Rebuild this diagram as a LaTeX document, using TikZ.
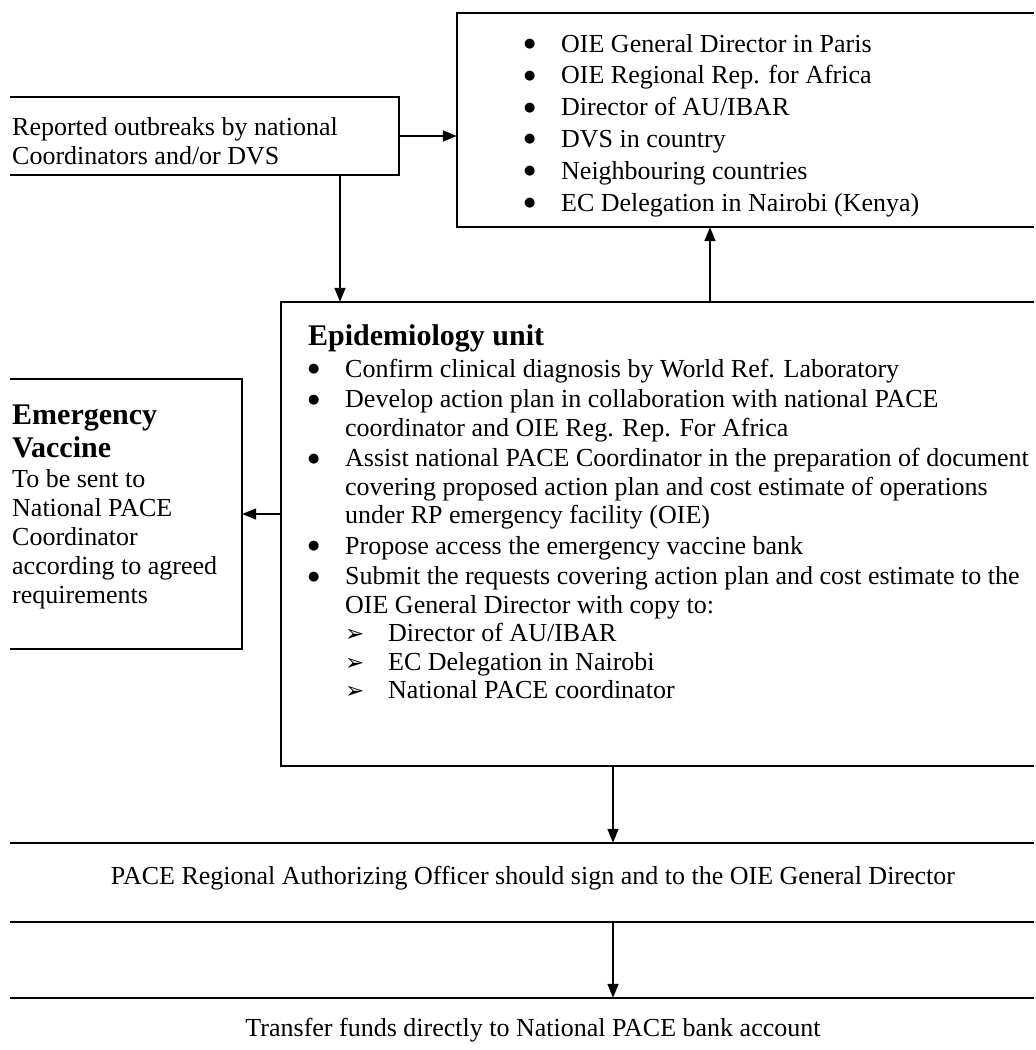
\documentclass[tikz,border=0pt]{standalone}
\usepackage{fontspec}
\setmainfont{Liberation Serif}
\newfontfamily\dingfont{DejaVu Sans}
\usepackage{tikz}
\usetikzlibrary{arrows.meta,positioning,calc}
\newcommand{\blt}{\makebox[37pt][l]{\raisebox{4.5pt}{\dingfont\fontsize{13}{13}\selectfont ●}}}
\newcommand{\hang}{\hspace*{37pt}}
\newcommand{\pointer}{\makebox[43pt][l]{\dingfont\fontsize{23}{23}\selectfont ➢}}
\tikzset{frame/.style={rectangle,inner sep=0pt,draw=none}}

\begin{document}
\begin{tikzpicture}[x=1pt,y=-1pt,
txt/.style={anchor=base west,inner sep=0pt,font=\fontsize{26}{29}\selectfont},
rule/.style={line width=1.6pt},
flow/.style={line width=1.6pt,-{Triangle[length=14pt,width=11pt]}}]
\useasboundingbox (0,0) rectangle (1036,1050);
\node (report) at (204.5,136)[frame,minimum width=389pt,minimum height=78pt] {};
\node (notify) at (745.5,120)[frame,minimum width=577pt,minimum height=214pt] {};
\node (epi) at (657.5,534)[frame,minimum width=753pt,minimum height=464pt] {};
\node (vaccine) at (126,514)[frame,minimum width=232pt,minimum height=270pt] {};
\node (sign) at (522,882.5)[frame,minimum width=1024pt,minimum height=79pt] {};
\node (funds) at (522,1034)[frame,minimum width=1024pt,minimum height=72pt] {};
\draw[rule] (report.north west) -- (report.north east) -- (report.south east) -- (report.south west);
\draw[rule] (notify.north east) -- (notify.north west) -- (notify.south west) -- (notify.south east);
\draw[rule] (epi.north east) -- (epi.north west) -- (epi.south west) -- (epi.south east);
\draw[rule] (vaccine.north west) -- (vaccine.north east) -- (vaccine.south east) -- (vaccine.south west);
\draw[rule] (sign.north west) -- (sign.north east) (sign.south west) -- (sign.south east);
\draw[rule] (funds.north west) -- (funds.north east);
\node (reporttxt) at (12,135)[txt] {\begin{tabular}[t]{@{}l@{}}
Reported outbreaks by national\\
Coordinators and/or DVS
\end{tabular}};
\node (notifytxt) at (524,52)[txt,font=\fontsize{26}{31.8}\selectfont] {\begin{tabular}[t]{@{}l@{}}
\blt OIE General Director in Paris\\
\blt OIE Regional Rep. for Africa\\
\blt Director of AU/IBAR\\
\blt DVS in country\\
\blt Neighbouring countries\\
\blt EC Delegation in Nairobi (Kenya)
\end{tabular}};
\node (epitxt) at (308,345)[txt,font=\fontsize{26}{28.5}\selectfont] {\begin{tabular}[t]{@{}l@{}}
{\fontsize{30}{33}\selectfont\bfseries Epidemiology unit}\\[3.5pt]
\blt Confirm clinical diagnosis by World Ref. Laboratory\\[2pt]
\blt Develop action plan in collaboration with national PACE\\
\hang coordinator and OIE Reg. Rep. For Africa\\[2pt]
\blt Assist national PACE Coordinator in the preparation of document\\
\hang covering proposed action plan and cost estimate of operations\\
\hang under RP emergency facility (OIE)\\[2pt]
\blt Propose access the emergency vaccine bank\\[2pt]
\blt Submit the requests covering action plan and cost estimate to the\\
\hang OIE General Director with copy to:\\
\hang\pointer Director of AU/IBAR\\
\hang\pointer EC Delegation in Nairobi\\
\hang\pointer National PACE coordinator
\end{tabular}};
\node (vaccinetxt) at (12,424)[txt] {\begin{tabular}[t]{@{}l@{}}
{\fontsize{30}{33}\selectfont\bfseries Emergency}\\[4pt]
{\fontsize{30}{33}\selectfont\bfseries Vaccine}\\[1pt]
To be sent to\\
National PACE\\
Coordinator\\
according to agreed\\
requirements
\end{tabular}};
\node (signtxt) at (533,878)[font=\fontsize{26}{29}\selectfont] {PACE Regional Authorizing Officer should sign and to the OIE General Director};
\node (fundstxt) at (533,1030)[font=\fontsize{26}{29}\selectfont] {Transfer funds directly to National PACE bank account};
\coordinate (dropx) at (340,0);
\coordinate (upx) at (710,0);
\coordinate (midx) at (613,0);
\draw[flow] (report.east) -- (report.east -| notify.west);
\draw[flow] (dropx |- report.south) -- (dropx |- epi.north);
\draw[flow] (upx |- epi.north) -- (upx |- notify.south);
\draw[flow] (epi.west |- vaccine.east) -- (vaccine.east);
\draw[flow] (midx |- epi.south) -- (midx |- sign.north);
\draw[flow] (midx |- sign.south) -- (midx |- funds.north);
\end{tikzpicture}
\end{document}
